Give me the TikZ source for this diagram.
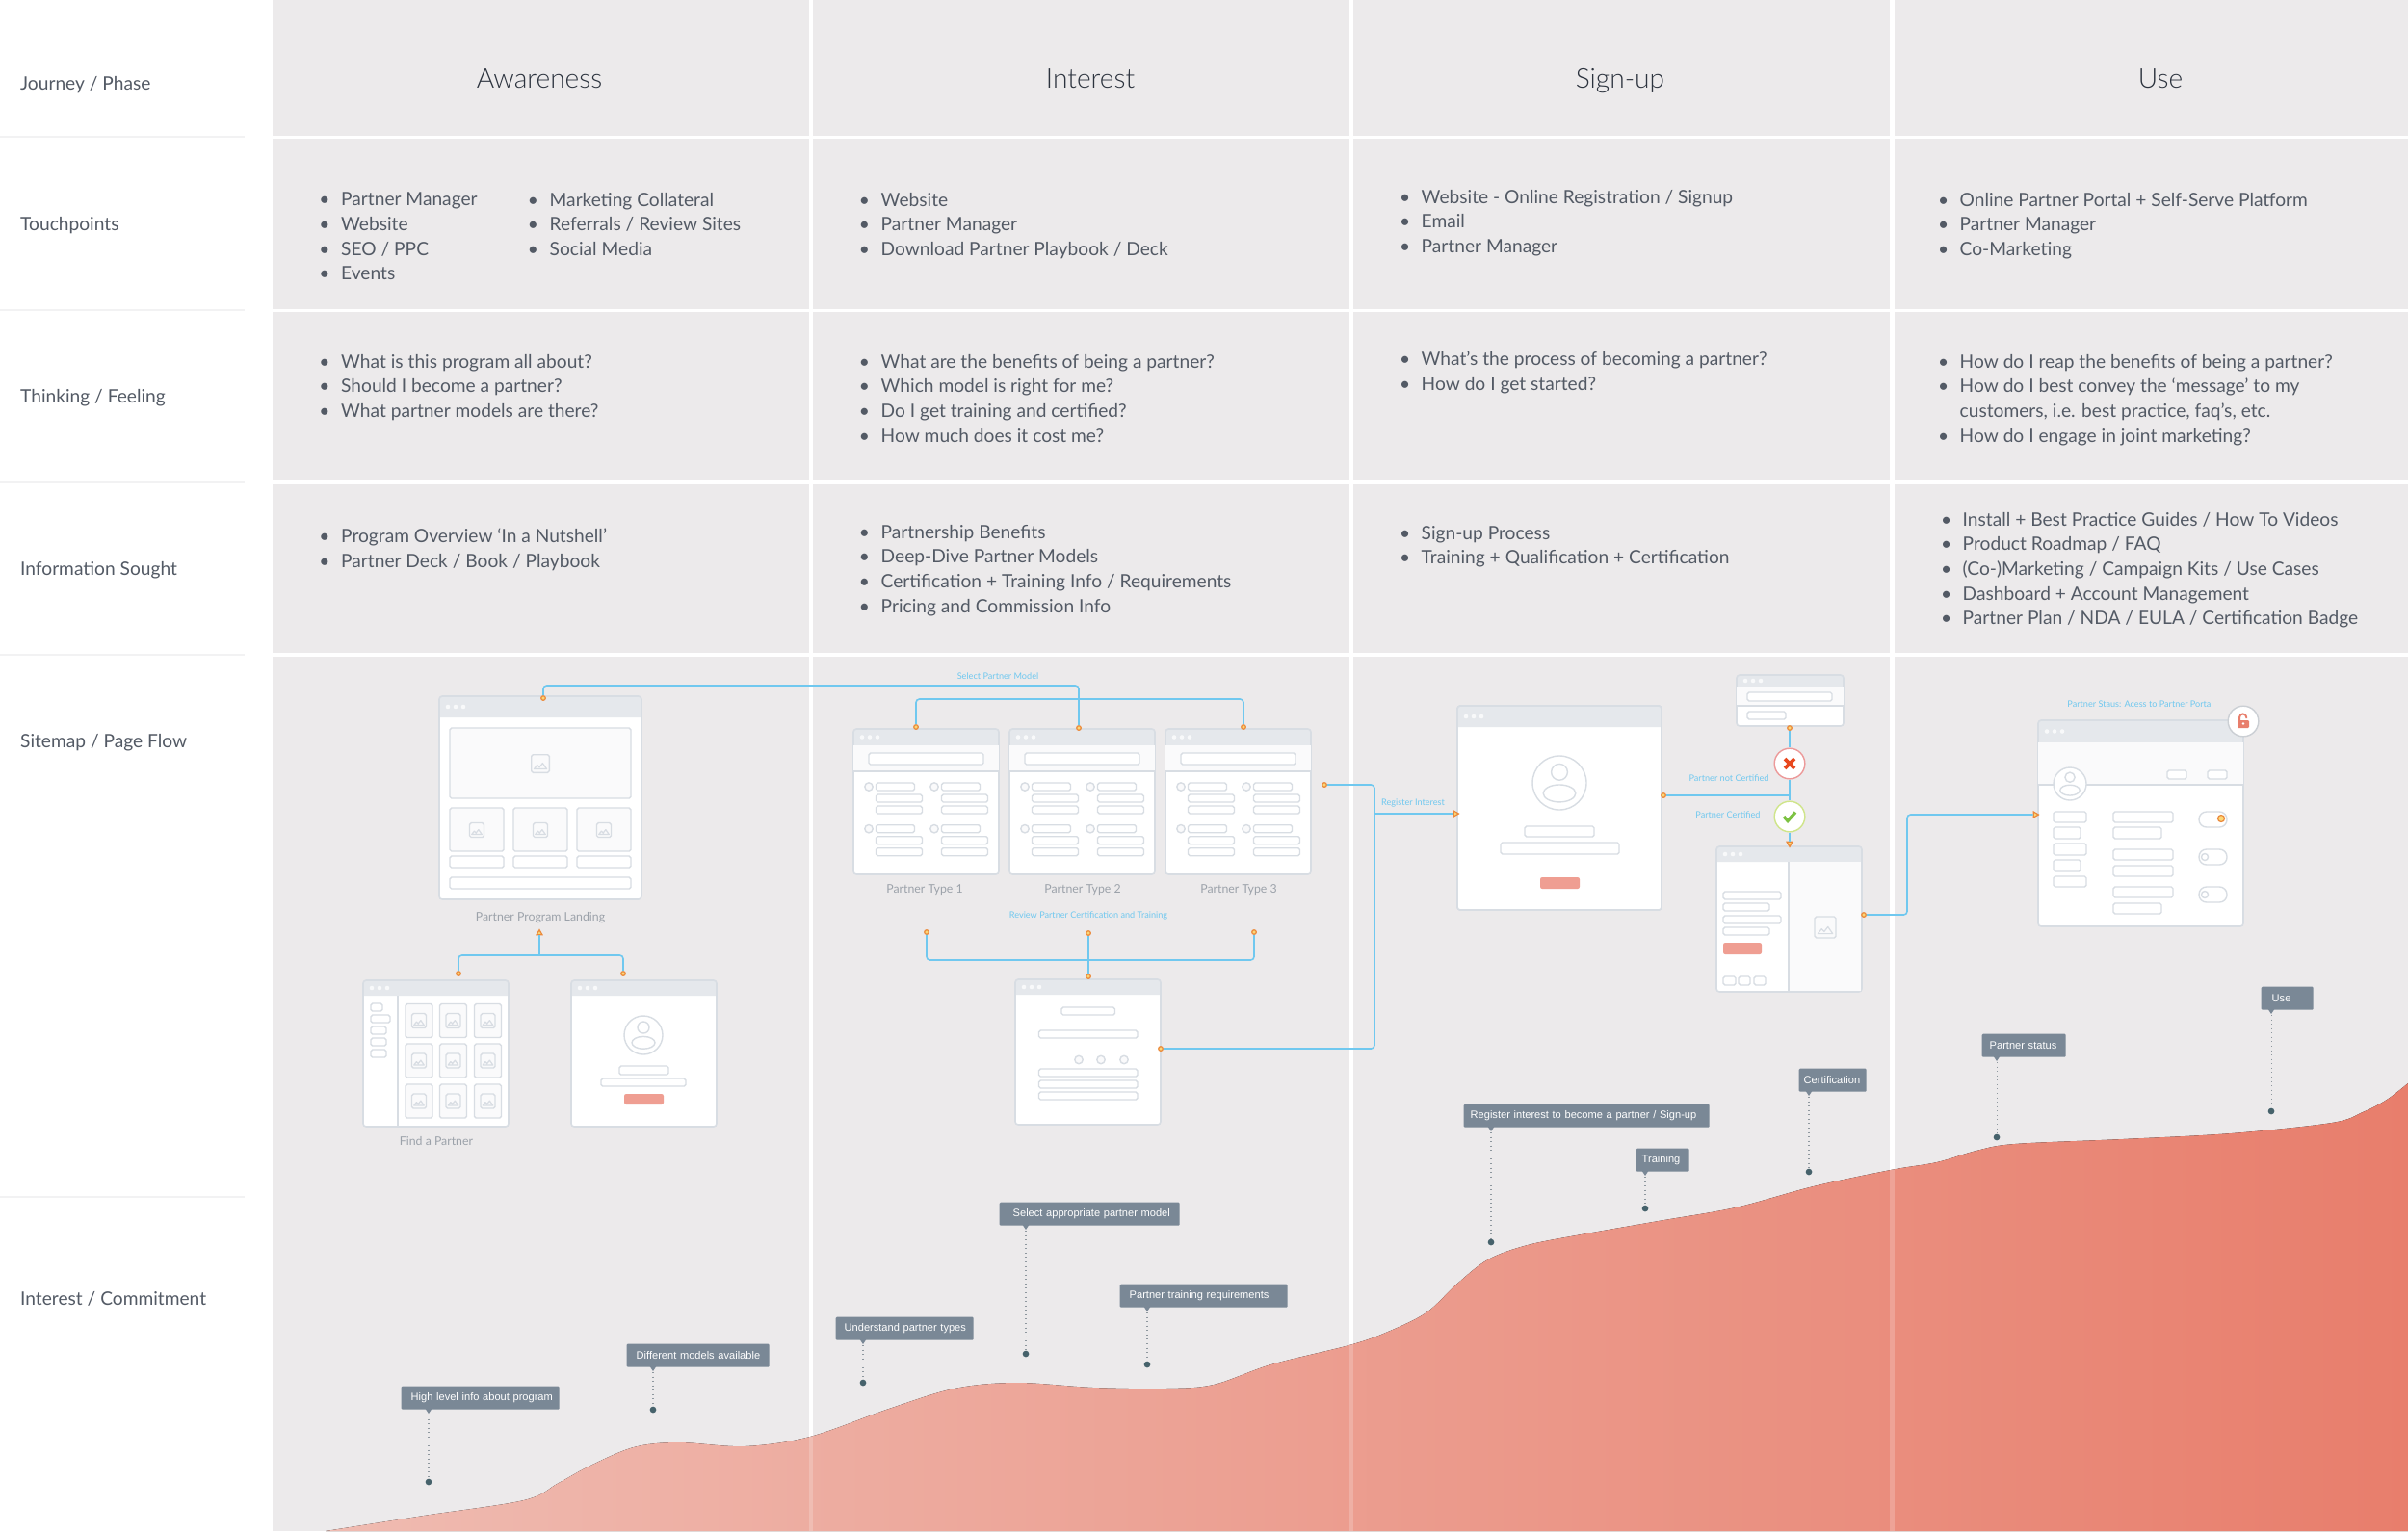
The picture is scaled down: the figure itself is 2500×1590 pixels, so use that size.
\documentclass[tikz,border=0pt]{standalone}
\usepackage{fontspec}
\setmainfont{Lato}
\newfontfamily\lightfont{Lato Light}
\newfontfamily\tagfont{Liberation Sans}
\usetikzlibrary{shapes.geometric}
\newlength{\pxu}
\setlength{\pxu}{0.01cm}
\definecolor{panelgrey}{HTML}{ECEAEB}
\definecolor{rulegrey}{HTML}{F2F2F3}
\definecolor{bodygrey}{HTML}{535A65}
\definecolor{headgrey}{HTML}{2C333E}
\definecolor{wiregrey}{HTML}{D8DDE3}
\definecolor{bargrey}{HTML}{E5E8EC}
\definecolor{bandgrey}{HTML}{FAFAFB}
\definecolor{pagegrey}{HTML}{9CA2AA}
\definecolor{flowblue}{HTML}{70C8EF}
\definecolor{dotorange}{HTML}{EB8A3C}
\definecolor{dotyellow}{HTML}{FBD777}
\definecolor{btnred}{HTML}{EF9E92}
\definecolor{noborder}{HTML}{EC9A9A}
\definecolor{nomark}{HTML}{E8481E}
\definecolor{okborder}{HTML}{CFE58A}
\definecolor{okmark}{HTML}{7CC242}
\definecolor{tagslate}{HTML}{7A8896}
\definecolor{leadgrey}{HTML}{8E979E}
\definecolor{enddark}{HTML}{46626B}
\definecolor{curveleft}{HTML}{EFBBB1}
\definecolor{curveright}{HTML}{E87E6C}
\tikzset{
  rowlabel/.style={anchor=west, inner sep=0pt, text=bodygrey, font=\fontsize{5.45}{7.25}\selectfont},
  headlabel/.style={anchor=base, inner sep=0pt, text=headgrey, font=\lightfont\fontsize{8}{9}\selectfont},
  listtext/.style={anchor=north west, align=left, inner sep=0pt, text=bodygrey, font=\fontsize{5.45}{7.27}\selectfont},
  pagelabel/.style={inner sep=0pt, text=pagegrey, font=\fontsize{3.5}{4.5}\selectfont},
  flowlabel/.style={inner sep=0pt, text=flowblue, font=\fontsize{2.6}{3.5}\selectfont},
  winframe/.style={draw=wiregrey, line width=0.45pt, rounded corners=0.9pt},
  wire/.style={draw=wiregrey, line width=0.4pt, fill=white, rounded corners=0.5pt},
  btn/.style={fill=btnred, rounded corners=0.6pt},
  flow/.style={draw=flowblue, line width=0.45pt, rounded corners=1pt},
  pdot/.style={circle, draw=dotorange, fill=dotyellow, line width=0.35pt, minimum size=1.3pt, inner sep=0pt},
  parrow/.style={regular polygon, regular polygon sides=3, draw=dotorange, fill=dotyellow, line width=0.35pt, minimum size=1.9pt, inner sep=0pt},
  statecirc/.style={circle, fill=white, line width=0.4pt, minimum size=9pt, inner sep=0pt},
  tagbox/.style={anchor=north west, fill=tagslate, rounded corners=0.3pt, inner xsep=0pt, inner ysep=0pt, minimum height=24\pxu, align=left, text=white, font=\tagfont\fontsize{3.15}{4}\selectfont},
  leader/.style={draw=leadgrey, line width=0.3pt, densely dotted},
  enddot/.style={circle, fill=enddark, minimum size=1.9pt, inner sep=0pt},
}
\newcommand{\bl}{\llap{\textbullet\hspace{3.3pt}}}
\newcommand{\curvepath}{plot[smooth, tension=0.55] coordinates {
    (338,1590) (440,1574) (544,1558) (580,1540) (613,1522) (658,1503) (704,1498) (773,1502) (841,1492)
    (923,1463) (991,1442) (1055,1436) (1135,1441) (1210,1442) (1260,1438) (1320,1417) (1401,1397)
    (1441,1383) (1481,1363) (1513,1333) (1545,1308) (1586,1293) (1642,1282) (1722,1268) (1802,1254)
    (1883,1232) (1963,1215) (2011,1207) (2052,1195) (2092,1188) (2204,1183) (2317,1177) (2421,1166)
    (2453,1155) (2478,1142) (2500,1125)
  } -- (2500,1590) -- cycle}
% x0, y0, x1, y1, bottom of the title bar
\newcommand{\browser}[5]{
  \fill[white, rounded corners=0.9pt] (#1,#2) rectangle (#3,#4);
  \fill[bargrey] (#1,#5) [rounded corners=0.9pt] -- (#1,#2) -- (#3,#2) [sharp corners] -- (#3,#5) -- cycle;
  \draw[winframe] (#1,#2) rectangle (#3,#4);
  \foreach \d in {9,17,25}
    \fill[white, opacity=0.75] ({#1+\d},{(#2+#5)/2}) circle (0.65pt);
}
\newcommand{\band}[4]{
  \fill[bandgrey] (#1,#2) rectangle (#3,#4);
  \draw[draw=wiregrey, line width=0.4pt] (#1,#4) -- (#3,#4);
}
\newcommand{\rr}[4]{\draw[wire] (#1,#2) rectangle (#3,#4);}
\newcommand{\imgicon}[3]{
  \begin{scope}[shift={(#1,#2)}, scale=#3]
    \draw[wire, fill=bandgrey] (-1,-1) rectangle (1,1);
    \draw[draw=wiregrey, line width=0.35pt, line join=round] (-0.7,0.6) -- (-0.35,0.15) -- (-0.1,0.4) -- (0.25,-0.05) -- (0.7,0.6) -- cycle;
  \end{scope}
}
\newcommand{\avatar}[3]{
  \begin{scope}[shift={(#1,#2)}, scale=#3]
    \draw[draw=wiregrey, line width=0.4pt, fill=white] (0,0) circle (1);
    \draw[draw=wiregrey, line width=0.4pt] (0,-0.4) circle (0.3);
    \draw[draw=wiregrey, line width=0.4pt] (0,0.39) ellipse (0.6 and 0.32);
  \end{scope}
}
% one of the partner type pages
\newcommand{\typewin}[1]{
  \browser{#1}{757}{#1+151}{908}{774}
  \band{#1}{774}{#1+151}{801}
  \rr{#1+16}{782}{#1+135}{794}
  \foreach \cx in {0,68}
    \foreach \ry in {0,43.7} {
      \draw[draw=wiregrey, line width=0.4pt, fill=bandgrey] ({#1+16+\cx},{817+\ry}) circle (4.2);
      \rr{#1+23.5+\cx}{813+\ry}{#1+63.5+\cx}{821+\ry}
      \rr{#1+23.5+\cx}{825+\ry}{#1+71.5+\cx}{833+\ry}
      \rr{#1+23.5+\cx}{837+\ry}{#1+71.5+\cx}{845+\ry}
    }
}
% name, x0, y0, x1, text inset, leader x, end dot y, text
\newcommand{\tagnote}[8]{
  \node[enddot] (#1end) at (#6,#7) {};
  \node[tagbox, text width={(#4-#2)*\pxu}] (#1) at (#2,#3) {\hspace*{#5\pxu}#8};
  \draw[leader] (#1.south -| #1end) -- (#1end);
  \fill[tagslate] ({#6-4},{#3+23}) -- ({#6+4},{#3+23}) -- (#6,{#3+29}) -- cycle;
}
\begin{document}
\begin{tikzpicture}[x=0.01cm, y=-0.01cm]
  \useasboundingbox (0,0) rectangle (2500,1590);
  \fill[white] (0,0) rectangle (2500,1590);
  % panels
  \foreach \ya/\yb in {0/141,144/321,324/499,503/678,682/1590}
    \foreach \xa/\xb in {283/840,844/1401,1405/1962,1967/2500}
      \fill[panelgrey] (\xa,\ya) rectangle (\xb,\yb);
  \foreach \yr in {142,322,501,680,1243}
    \draw[rulegrey, line width=0.4pt] (0,\yr) -- (254,\yr);
  % row labels
  \node[rowlabel] (phase) at (20.5,88) {Journey / Phase};
  \node[rowlabel] (touch) at (20.5,234) {Touchpoints};
  \node[rowlabel] (think) at (20.5,413) {Thinking / Feeling};
  \node[rowlabel] (info) at (20.5,592) {Information Sought};
  \node[rowlabel] (sitemap) at (20.5,771) {Sitemap / Page Flow};
  \node[rowlabel] (commit) at (20.5,1349) {Interest / Commitment};
  % phases
  \node[headlabel] (awareness) at (560,91) {Awareness};
  \node[headlabel] (interest) at (1132,91) {Interest};
  \node[headlabel] (signup) at (1682,91) {Sign-up};
  \node[headlabel] (use) at (2243,91) {Use};
  % touchpoints
  \node[listtext] (toucha) at (353.5,199.5) {\bl Partner Manager\\ \bl Website\\ \bl SEO / PPC\\ \bl Events};
  \node[listtext] (touchb) at (570,199.5) {\bl Marketing Collateral\\ \bl Referrals / Review Sites\\ \bl Social Media};
  \node[listtext] (touchc) at (914,199.5) {\bl Website\\ \bl Partner Manager\\ \bl Download Partner Playbook / Deck};
  \node[listtext] (touchd) at (1475,196.5) {\bl Website - Online Registration / Signup\\ \bl Email\\ \bl Partner Manager};
  \node[listtext] (touche) at (2034,199.5) {\bl Online Partner Portal + Self-Serve Platform\\ \bl Partner Manager\\ \bl Co-Marketing};
  % thinking
  \node[listtext] (thinka) at (353.5,367.5) {\bl What is this program all about?\\ \bl Should I become a partner?\\ \bl What partner models are there?};
  \node[listtext] (thinkb) at (914,367.5) {\bl What are the benefits of being a partner?\\ \bl Which model is right for me?\\ \bl Do I get training and certified?\\ \bl How much does it cost me?};
  \node[listtext] (thinkc) at (1475,364.5) {\bl What’s the process of becoming a partner?\\ \bl How do I get started?};
  \node[listtext] (thinkd) at (2034,367.5) {\bl How do I reap the benefits of being a partner?\\ \bl How do I best convey the ‘message’ to my\\ customers, i.e. best practice, faq’s, etc.\\ \bl How do I engage in joint marketing?};
  % information
  \node[listtext] (infoa) at (353.5,548.5) {\bl Program Overview ‘In a Nutshell’\\ \bl Partner Deck / Book / Playbook};
  \node[listtext] (infob) at (914,544.5) {\bl Partnership Benefits\\ \bl Deep-Dive Partner Models\\ \bl Certification + Training Info / Requirements\\ \bl Pricing and Commission Info};
  \node[listtext] (infoc) at (1475,545.5) {\bl Sign-up Process\\ \bl Training + Qualification + Certification};
  \node[listtext] (infod) at (2037,531.5) {\bl Install + Best Practice Guides / How To Videos\\ \bl Product Roadmap / FAQ\\ \bl (Co-)Marketing / Campaign Kits / Use Cases\\ \bl Dashboard + Account Management\\ \bl Partner Plan / NDA / EULA / Certification Badge};
  % interest curve
  \fill[left color=curveleft, right color=curveright] \curvepath;
  \begin{scope}
    \clip \curvepath;
    \fill[white, opacity=0.2] (840,1100) rectangle (844,1590);
    \fill[white, opacity=0.2] (1401,1100) rectangle (1405,1590);
    \fill[white, opacity=0.2] (1962,1100) rectangle (1967,1590);
  \end{scope}
  % landing page
  \browser{456}{723}{666}{934}{745}
  \draw[wire, fill=bandgrey] (467,756) rectangle (655,829);
  \imgicon{561}{793}{9.3}
  \foreach \xb in {467,533,599} {
    \draw[wire, fill=bandgrey] (\xb,839) rectangle (\xb+56,884);
    \imgicon{\xb+28}{862}{7.5}
    \rr{\xb}{889}{\xb+56}{901}
  }
  \rr{467}{911}{655}{923}
  \node[pagelabel] (landing) at (561,953) {Partner Program Landing};
  % find a partner page
  \browser{377}{1018}{528}{1170}{1034}
  \draw[draw=wiregrey, line width=0.4pt] (413,1034) -- (413,1170);
  \rr{385}{1042}{397}{1050}
  \rr{385}{1054}{405}{1062}
  \rr{385}{1066}{401}{1074}
  \rr{385}{1078}{401}{1086}
  \rr{385}{1090}{401}{1098}
  \foreach \xg in {435,470.5,506.5}
    \foreach \yg in {1060,1101.5,1143.5} {
      \draw[wire, fill=bandgrey] (\xg-14,\yg-17.5) rectangle (\xg+14,\yg+17.5);
      \imgicon{\xg}{\yg}{7.5}
    }
  \node[pagelabel] (findpartner) at (453,1185) {Find a Partner};
  % login page
  \browser{593}{1018}{744}{1170}{1034}
  \avatar{668}{1075}{20}
  \rr{643}{1107}{694}{1116}
  \rr{624}{1120}{712}{1128}
  \fill[btn] (648,1136) rectangle (689,1147);
  % partner type pages
  \typewin{886}
  \typewin{1048}
  \typewin{1210}
  \node[pagelabel] (typea) at (960,924) {Partner Type 1};
  \node[pagelabel] (typeb) at (1124,924) {Partner Type 2};
  \node[pagelabel] (typec) at (1286,924) {Partner Type 3};
  \node[flowlabel] (selectmodel) at (1036,702) {Select Partner Model};
  \node[flowlabel] (reviewcert) at (1130,951) {Review Partner Certification and Training};
  % review page
  \browser{1054}{1017}{1205}{1168}{1033}
  \rr{1102}{1046}{1157.5}{1054}
  \rr{1078.5}{1070}{1181}{1078}
  \foreach \xc in {1120,1143,1167}
    \draw[draw=wiregrey, line width=0.4pt, fill=bandgrey] (\xc,1100.5) circle (4.2);
  \foreach \yc in {1110,1122,1134}
    \rr{1078.5}{\yc}{1181}{\yc+8}
  % sign-up page
  \browser{1513}{733}{1725}{945}{755}
  \avatar{1619}{813}{28}
  \rr{1583}{858}{1655}{869}
  \rr{1558}{875}{1681}{887}
  \fill[btn] (1599,911) rectangle (1640,923);
  % top small page
  \browser{1803}{701}{1914}{754}{713}
  \band{1803}{713}{1914}{733}
  \rr{1814}{719}{1902}{728}
  \rr{1814}{739}{1854}{747}
  % certified page
  \browser{1782}{879}{1933}{1030}{895}
  \fill[bandgrey] (1857,895) rectangle (1932,1029);
  \draw[draw=wiregrey, line width=0.4pt] (1857,895) -- (1857,1030);
  \rr{1789}{926}{1849}{934}
  \rr{1789}{938}{1837}{946}
  \rr{1789}{951}{1849}{959}
  \rr{1789}{963}{1837}{971}
  \fill[btn] (1789,979) rectangle (1829,991);
  \rr{1789}{1014}{1802}{1023}
  \rr{1805}{1014}{1817}{1023}
  \rr{1821}{1014}{1833}{1023}
  \imgicon{1895}{963}{11}
  % portal page
  \browser{2116}{748}{2329}{962}{771}
  \band{2116}{771}{2329}{815}
  \avatar{2149}{814}{17}
  \rr{2250}{800}{2270}{809}
  \rr{2292}{800}{2312}{809}
  \rr{2132}{843}{2166}{854}
  \rr{2132}{859}{2160}{871}
  \rr{2132}{876}{2166}{888}
  \rr{2132}{893}{2160}{905}
  \rr{2132}{910}{2166}{921}
  \rr{2194}{843}{2256}{854}
  \rr{2194}{859}{2244}{871}
  \rr{2194}{882}{2256}{893}
  \rr{2194}{899}{2256}{910}
  \rr{2194}{921}{2256}{932}
  \rr{2194}{938}{2244}{949}
  \foreach \yt in {843,882,921}
    \draw[draw=wiregrey, line width=0.4pt, fill=white, rounded corners=2.2pt] (2283,\yt) rectangle (2312,\yt+16);
  \draw[draw=dotorange, fill=dotyellow, line width=0.35pt] (2306,850) circle (3.5);
  \draw[draw=wiregrey, line width=0.4pt, fill=white] (2289,890) circle (3.5);
  \draw[draw=wiregrey, line width=0.4pt, fill=white] (2289,929) circle (3.5);
  \node[flowlabel] (portalstatus) at (2222,731) {Partner Staus: Acess to Partner Portal};
  \node[circle, draw=wiregrey!85!gray, fill=white, line width=0.4pt, minimum size=9pt, inner sep=0pt] (unlock) at (2329,749) {};
  \draw[curveright, line width=0.55pt] (2325,748) -- (2325,745) arc[start angle=180, end angle=360, radius=3.6] -- (2332.2,746);
  \fill[curveright, rounded corners=0.3pt] (2323,748) rectangle (2335,756);
  \fill[white] (2329,751.5) circle (1.4);
  % connector ends
  \node[pdot] (landtop) at (564,725) {};
  \node[pdot] (typebtop) at (1120,756) {};
  \node[pdot] (typeatop) at (951,755) {};
  \node[pdot] (typectop) at (1291,755) {};
  \node[parrow] (landbelow) at (560,969) {};
  \coordinate (landjoin) at (560,992);
  \node[pdot] (findtop) at (476,1011) {};
  \node[pdot] (logintop) at (647,1011) {};
  \node[pdot] (typeabelow) at (962,968) {};
  \node[pdot] (typebbelow) at (1130,969) {};
  \node[pdot] (typecbelow) at (1302,968) {};
  \coordinate (reviewjoin) at (1130,997);
  \node[pdot] (reviewtop) at (1130,1014) {};
  \node[pdot] (reviewright) at (1205,1089) {};
  \node[pdot] (typeright) at (1375,815) {};
  \coordinate (regjoin) at (1427,845);
  \coordinate (regbottom) at (1427,1089);
  \node[parrow, rotate=-90] (signleft) at (1511,845) {};
  \node[pdot] (signright) at (1727,826) {};
  \coordinate (certjoin) at (1858,826);
  \node[pdot] (certtop) at (1858,756) {};
  \node[statecirc, draw=noborder] (notcert) at (1858,793) {};
  \node[statecirc, draw=okborder] (cert) at (1858,848) {};
  \node[parrow, rotate=180] (certbottom) at (1858,876) {};
  \node[pdot] (splitright) at (1935,950) {};
  \node[parrow, rotate=-90] (portalleft) at (2113,846) {};
  % marks in the circles
  \draw[nomark, line width=1.05pt] ([shift={(-5,-5)}]notcert.center) -- ([shift={(5,5)}]notcert.center);
  \draw[nomark, line width=1.05pt] ([shift={(-5,5)}]notcert.center) -- ([shift={(5,-5)}]notcert.center);
  \draw[okmark, line width=0.95pt] ([shift={(-6,0)}]cert.center) -- ([shift={(-2,4.5)}]cert.center) -- ([shift={(6,-4.5)}]cert.center);
  % flows
  \draw[flow] (landtop) -- ++(0,-13) -| (typebtop);
  \draw[flow] (typeatop) -- ++(0,-29) -| (typectop);
  \draw[flow] (landbelow) -- (landjoin);
  \draw[flow] (findtop) |- (landjoin) -| (logintop);
  \draw[flow] (typeabelow) |- (reviewjoin) -| (typecbelow);
  \draw[flow] (typebbelow) -- (reviewtop);
  \draw[flow] (typeright) -| (regbottom) -- (reviewright);
  \draw[flow] (regjoin) -- (signleft);
  \draw[flow] (signright) -- (certjoin);
  \draw[flow] (certtop) -- (notcert);
  \draw[flow] (notcert) -- (cert);
  \draw[flow] (cert) -- (certbottom);
  \draw[flow] (splitright) -- ++(45,0) |- (portalleft);
  \node[flowlabel] (reginterest) at (1467,834) {Register Interest};
  \node[flowlabel] (notcertlabel) at (1795,808) {Partner not Certified};
  \node[flowlabel] (certlabel) at (1794,846) {Partner Certified};
  % notes
  \tagnote{tagprogram}{416}{1439}{580}{10}{445}{1539}{High level info about program}
  \tagnote{tagmodels}{650}{1395}{798}{10}{678}{1464}{Different models available}
  \tagnote{tagtypes}{867}{1367}{1010}{9}{896}{1436}{Understand partner types}
  \tagnote{tagselect}{1037}{1248}{1224}{14}{1065}{1406}{Select appropriate partner model}
  \tagnote{tagtraining}{1162}{1333}{1336}{10}{1191}{1417}{Partner training requirements}
  \tagnote{tagregister}{1519}{1146}{1774}{7}{1548}{1290}{Register interest to become a partner / Sign-up}
  \tagnote{tagtrain}{1698}{1192}{1753}{6}{1708}{1255}{Training}
  \tagnote{tagcert}{1867}{1109}{1937}{5}{1878}{1217}{Certification}
  \tagnote{tagstatus}{2057}{1073}{2144}{8}{2073}{1181}{Partner status}
  \tagnote{taguse}{2347}{1024}{2401}{11}{2358}{1154}{Use}
\end{tikzpicture}
\end{document}
